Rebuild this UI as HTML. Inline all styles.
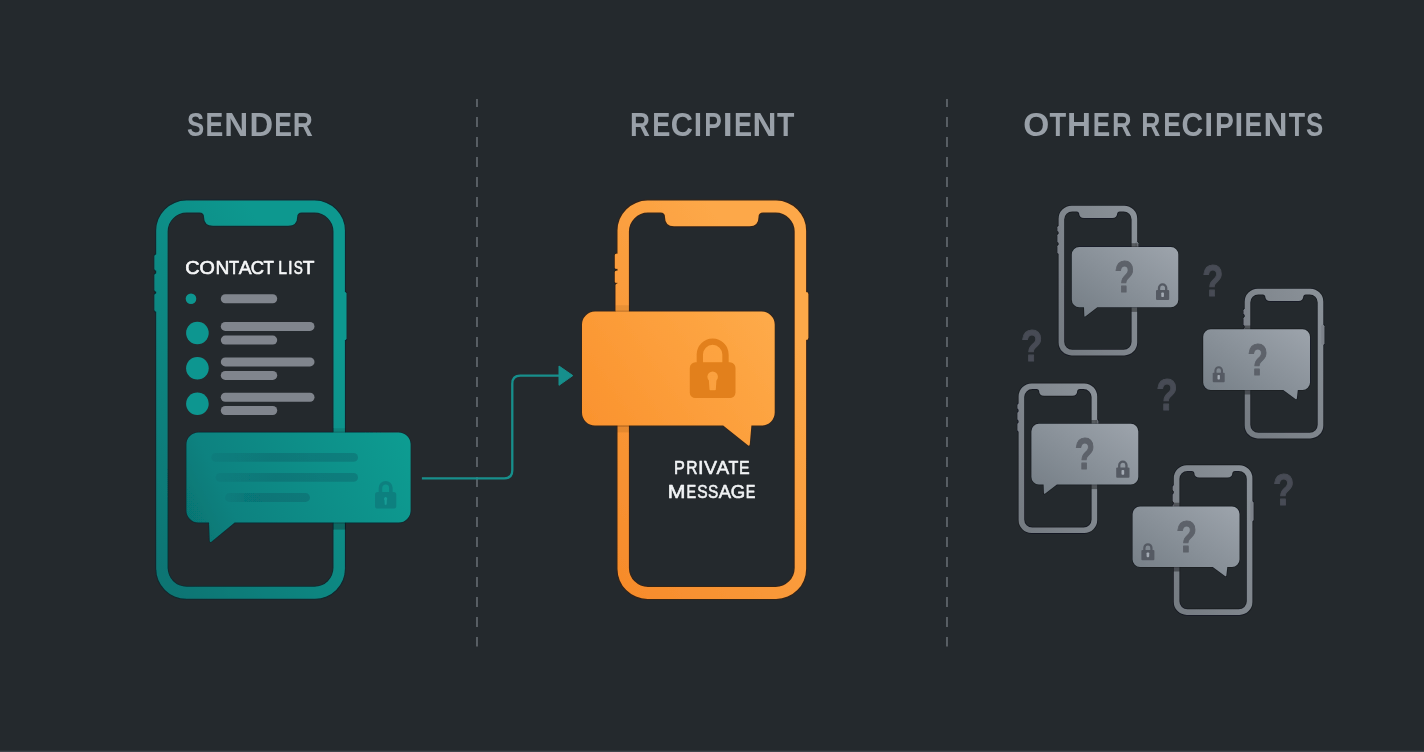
<!DOCTYPE html>
<html lang="en">
<head>
<meta charset="utf-8">
<title>Private message delivery: sender, recipient, other recipients</title>
<style>
  html, body { margin: 0; padding: 0; background: #24292d; }
  body { width: 1424px; height: 752px; overflow: hidden; }
  svg { display: block; }
  text { font-family: "Liberation Sans", sans-serif; }
</style>
</head>
<body>
<svg width="1424" height="752" viewBox="0 0 1424 752">
<defs>
  <linearGradient id="gTeal" gradientUnits="userSpaceOnUse" x1="156" y1="600" x2="472.5" y2="398.6">
    <stop offset="0" stop-color="#087271"/><stop offset="0.4" stop-color="#0e8681"/><stop offset="0.773" stop-color="#0e988f"/><stop offset="1" stop-color="#0e988f"/>
  </linearGradient>
  <linearGradient id="gTealB" gradientUnits="userSpaceOnUse" x1="186" y1="540" x2="411" y2="432">
    <stop offset="0" stop-color="#06726f"/><stop offset="0.22" stop-color="#088280"/><stop offset="1" stop-color="#0e9d92"/>
  </linearGradient>
  <linearGradient id="gTealLine" gradientUnits="objectBoundingBox" x1="0" y1="0" x2="1" y2="0">
    <stop offset="0" stop-color="#004655" stop-opacity="0.09"/><stop offset="0.42" stop-color="#004655" stop-opacity="0.27"/><stop offset="1" stop-color="#004655" stop-opacity="0.28"/>
  </linearGradient>
  <linearGradient id="gOr" gradientUnits="userSpaceOnUse" x1="617" y1="600" x2="933.5" y2="398.6">
    <stop offset="0" stop-color="#f68a2a"/><stop offset="0.773" stop-color="#fda848"/><stop offset="1" stop-color="#fda848"/>
  </linearGradient>
  <linearGradient id="gOrB" gradientUnits="userSpaceOnUse" x1="581" y1="446" x2="775" y2="311">
    <stop offset="0" stop-color="#fa912c"/><stop offset="1" stop-color="#feab4a"/>
  </linearGradient>
  <linearGradient id="gGrayB" gradientUnits="objectBoundingBox" x1="0" y1="1" x2="1" y2="0">
    <stop offset="0" stop-color="#747d85"/><stop offset="1" stop-color="#9da4ac"/>
  </linearGradient>
  <linearGradient id="gGrayP" gradientUnits="objectBoundingBox" x1="0" y1="1" x2="1" y2="0">
    <stop offset="0" stop-color="#747a81"/><stop offset="1" stop-color="#8b9299"/>
  </linearGradient>
  <filter id="soft" filterUnits="userSpaceOnUse" x="0" y="0" width="1424" height="752">
    <feGaussianBlur stdDeviation="0.45"/>
  </filter>
</defs>
<rect width="1424" height="752" fill="#24292d"/>
<rect x="0" y="750.7" width="1424" height="1.3" fill="#40454c"/>
<g filter="url(#soft)">

<line x1="477" y1="99" x2="477" y2="646.5" stroke="#757a82" stroke-width="1.3" stroke-dasharray="10 10" stroke-dashoffset="1.9"/>
<line x1="947" y1="99" x2="947" y2="646.5" stroke="#757a82" stroke-width="1.3" stroke-dasharray="10 10" stroke-dashoffset="1.9"/>
<text y="135.67" font-size="33.10" font-weight="bold" fill="#99a0a8"><tspan x="187.12" textLength="17.23" lengthAdjust="spacingAndGlyphs">S</tspan><tspan x="205.44" textLength="17.75" lengthAdjust="spacingAndGlyphs">E</tspan><tspan x="224.37" textLength="23.99" lengthAdjust="spacingAndGlyphs">N</tspan><tspan x="249.62" textLength="23.56" lengthAdjust="spacingAndGlyphs">D</tspan><tspan x="274.14" textLength="17.75" lengthAdjust="spacingAndGlyphs">E</tspan><tspan x="292.86" textLength="20.06" lengthAdjust="spacingAndGlyphs">R</tspan></text>
<text y="135.67" font-size="33.10" font-weight="bold" fill="#99a0a8"><tspan x="630.07" textLength="19.95" lengthAdjust="spacingAndGlyphs">R</tspan><tspan x="652.20" textLength="18.10" lengthAdjust="spacingAndGlyphs">E</tspan><tspan x="670.87" textLength="22.22" lengthAdjust="spacingAndGlyphs">C</tspan><tspan x="693.70" textLength="8.33" lengthAdjust="spacingAndGlyphs">I</tspan><tspan x="704.16" textLength="17.51" lengthAdjust="spacingAndGlyphs">P</tspan><tspan x="722.70" textLength="9.92" lengthAdjust="spacingAndGlyphs">I</tspan><tspan x="734.00" textLength="18.10" lengthAdjust="spacingAndGlyphs">E</tspan><tspan x="752.57" textLength="23.99" lengthAdjust="spacingAndGlyphs">N</tspan><tspan x="777.02" textLength="17.39" lengthAdjust="spacingAndGlyphs">T</tspan></text>
<text y="135.67" font-size="33.10" font-weight="bold" fill="#99a0a8"><tspan x="1023.36" textLength="26.00" lengthAdjust="spacingAndGlyphs">O</tspan><tspan x="1049.43" textLength="16.67" lengthAdjust="spacingAndGlyphs">T</tspan><tspan x="1066.97" textLength="23.99" lengthAdjust="spacingAndGlyphs">H</tspan><tspan x="1092.77" textLength="17.39" lengthAdjust="spacingAndGlyphs">E</tspan><tspan x="1112.00" textLength="19.60" lengthAdjust="spacingAndGlyphs">R</tspan> <tspan x="1141.14" textLength="19.14" lengthAdjust="spacingAndGlyphs">R</tspan><tspan x="1163.24" textLength="17.75" lengthAdjust="spacingAndGlyphs">E</tspan><tspan x="1181.40" textLength="21.67" lengthAdjust="spacingAndGlyphs">C</tspan><tspan x="1204.25" textLength="8.93" lengthAdjust="spacingAndGlyphs">I</tspan><tspan x="1215.03" textLength="18.82" lengthAdjust="spacingAndGlyphs">P</tspan><tspan x="1234.40" textLength="8.73" lengthAdjust="spacingAndGlyphs">I</tspan><tspan x="1244.55" textLength="17.63" lengthAdjust="spacingAndGlyphs">E</tspan><tspan x="1263.47" textLength="23.99" lengthAdjust="spacingAndGlyphs">N</tspan><tspan x="1288.63" textLength="16.36" lengthAdjust="spacingAndGlyphs">T</tspan><tspan x="1306.12" textLength="17.23" lengthAdjust="spacingAndGlyphs">S</tspan></text>
<g id="sender">
<rect x="154.60" y="254.50" width="5" height="16" rx="1.60" fill="url(#gTeal)" stroke="rgba(0,40,48,0.55)" stroke-width="2.0" paint-order="stroke"/>
<rect x="154.60" y="273.50" width="5" height="18" rx="1.60" fill="url(#gTeal)" stroke="rgba(0,40,48,0.55)" stroke-width="2.0" paint-order="stroke"/>
<rect x="154.60" y="293.50" width="5" height="18" rx="1.60" fill="url(#gTeal)" stroke="rgba(0,40,48,0.55)" stroke-width="2.0" paint-order="stroke"/>
<rect x="341.80" y="292.00" width="4.5" height="48" rx="1.60" fill="url(#gTeal)" stroke="rgba(0,40,48,0.55)" stroke-width="2.0" paint-order="stroke"/>
<path d="M186.20,200.60H314.90A30,30 0 0 1 344.90,230.60V568.80A30,30 0 0 1 314.90,598.80H186.20A30,30 0 0 1 156.20,568.80V230.60A30,30 0 0 1 186.20,200.60ZM186.60,212.60H199.50Q204.00,212.60 204.00,217.10V216.70Q204.00,225.70 213.00,225.70H288.20Q297.20,225.70 297.20,216.70V217.10Q297.20,212.60 301.70,212.60H314.50A19,19 0 0 1 333.50,231.60V567.80A19,19 0 0 1 314.50,586.80H186.60A19,19 0 0 1 167.60,567.80V231.60A19,19 0 0 1 186.60,212.60Z" fill="url(#gTeal)" fill-rule="evenodd" stroke="rgba(0,40,48,0.55)" stroke-width="2.0" paint-order="stroke"/>
<rect x="154.60" y="254.50" width="5" height="16" rx="1.60" fill="url(#gTeal)"/>
<rect x="154.60" y="273.50" width="5" height="18" rx="1.60" fill="url(#gTeal)"/>
<rect x="154.60" y="293.50" width="5" height="18" rx="1.60" fill="url(#gTeal)"/>
<rect x="341.80" y="292.00" width="4.5" height="48" rx="1.60" fill="url(#gTeal)"/>
<text y="274.34" font-size="18.67" font-weight="normal" fill="#f7f8f9" stroke="#f7f8f9" stroke-width="0.6" stroke-linejoin="round"><tspan x="185.30" textLength="14.34" lengthAdjust="spacingAndGlyphs">C</tspan><tspan x="199.61" textLength="15.34" lengthAdjust="spacingAndGlyphs">O</tspan><tspan x="215.56" textLength="13.83" lengthAdjust="spacingAndGlyphs">N</tspan><tspan x="229.03" textLength="10.15" lengthAdjust="spacingAndGlyphs">T</tspan><tspan x="238.69" textLength="12.86" lengthAdjust="spacingAndGlyphs">A</tspan><tspan x="250.75" textLength="13.26" lengthAdjust="spacingAndGlyphs">C</tspan><tspan x="263.43" textLength="10.15" lengthAdjust="spacingAndGlyphs">T</tspan> <tspan x="278.20" textLength="8.76" lengthAdjust="spacingAndGlyphs">L</tspan><tspan x="288.07" textLength="4.63" lengthAdjust="spacingAndGlyphs">I</tspan><tspan x="293.69" textLength="9.08" lengthAdjust="spacingAndGlyphs">S</tspan><tspan x="302.71" textLength="11.70" lengthAdjust="spacingAndGlyphs">T</tspan></text>
<circle cx="191" cy="298.7" r="5.3" fill="#0f9690"/>
<rect x="220.8" y="294.3" width="56.4" height="9" rx="4.5" fill="#80858d"/>
<circle cx="197.4" cy="333" r="11.3" fill="#0f9690"/>
<rect x="220.8" y="321.9" width="93.7" height="9" rx="4.5" fill="#80858d"/>
<rect x="220.8" y="335.6" width="56.4" height="9" rx="4.5" fill="#80858d"/>
<circle cx="197.4" cy="368.3" r="11.3" fill="#0f9690"/>
<rect x="220.8" y="357.4" width="93.7" height="9" rx="4.5" fill="#80858d"/>
<rect x="220.8" y="370.9" width="56.4" height="9" rx="4.5" fill="#80858d"/>
<circle cx="197.4" cy="403.8" r="11.3" fill="#0f9690"/>
<rect x="220.8" y="392.8" width="93.7" height="9" rx="4.5" fill="#80858d"/>
<rect x="220.8" y="406" width="56.4" height="9" rx="4.5" fill="#80858d"/>
<rect x="333.00" y="428.20" width="13.00" height="4.60" fill="#000" fill-opacity="0.1"/>
<rect x="333.00" y="522.00" width="13.00" height="7.60" fill="#000" fill-opacity="0.25"/>
<path d="M198.40,432.60H398.60A12,12 0 0 1 410.60,444.60V510.60A12,12 0 0 1 398.60,522.60H234.70L211.73,541.42Q209.80,543.00 209.70,540.50L209.00,522.60H198.40A12,12 0 0 1 186.40,510.60V444.60A12,12 0 0 1 198.40,432.60Z" fill="url(#gTealB)" stroke="rgba(0,40,48,0.45)" stroke-width="1.6" paint-order="stroke"/>
<rect x="211.3" y="453.00" width="146.70" height="8.8" rx="4.4" fill="url(#gTealLine)"/>
<rect x="215.5" y="473.00" width="142.50" height="8.8" rx="4.4" fill="url(#gTealLine)"/>
<rect x="225" y="493.10" width="85.00" height="8.8" rx="4.4" fill="url(#gTealLine)"/>
<g opacity="0.85">
<path d="M380.43,492.98V487.93A5.22,5.22 0 0 1 390.87,487.93V492.98" fill="none" stroke="#0a7d7d" stroke-width="3.62"/>
<rect x="375.00" y="491.98" width="21.30" height="16.62" rx="2.66" fill="#0a7d7d"/>
<circle cx="385.65" cy="498.63" r="1.60" fill="#1a9e97"/>
<path d="M384.66,498.63L384.93,504.61H386.37L386.64,498.63Z" fill="#1a9e97" stroke="#1a9e97" stroke-width="0.48" stroke-linejoin="round"/>
</g>
</g>
<path d="M421.9,478.3H504.3Q512.3,478.3 512.3,470.3V383.7Q512.3,375.7 520.3,375.7H560" fill="none" stroke="#178f8c" stroke-width="2.3"/>
<path d="M559,366L572.8,375.6L559,385.3Z" fill="#178f8c" stroke="#178f8c" stroke-width="1" stroke-linejoin="round"/>
<g id="recipient">
<rect x="614.90" y="253.80" width="5" height="15" rx="1.60" fill="url(#gOr)" stroke="rgba(70,30,0,0.5)" stroke-width="2.0" paint-order="stroke"/>
<rect x="614.90" y="270.80" width="5" height="12" rx="1.60" fill="url(#gOr)" stroke="rgba(70,30,0,0.5)" stroke-width="2.0" paint-order="stroke"/>
<rect x="615.70" y="283.50" width="5" height="29" rx="1.60" fill="url(#gOr)" stroke="rgba(70,30,0,0.5)" stroke-width="2.0" paint-order="stroke"/>
<rect x="804.00" y="292.30" width="4.2" height="47.4" rx="1.60" fill="url(#gOr)" stroke="rgba(70,30,0,0.5)" stroke-width="2.0" paint-order="stroke"/>
<path d="M647.50,200.60H776.10A30,30 0 0 1 806.10,230.60V568.90A30,30 0 0 1 776.10,598.90H647.50A30,30 0 0 1 617.50,568.90V230.60A30,30 0 0 1 647.50,200.60ZM647.90,212.60H660.50Q665.00,212.60 665.00,217.10V217.20Q665.00,226.20 674.00,226.20H749.50Q758.50,226.20 758.50,217.20V217.10Q758.50,212.60 763.00,212.60H775.70A19,19 0 0 1 794.70,231.60V567.90A19,19 0 0 1 775.70,586.90H647.90A19,19 0 0 1 628.90,567.90V231.60A19,19 0 0 1 647.90,212.60Z" fill="url(#gOr)" fill-rule="evenodd" stroke="rgba(70,30,0,0.5)" stroke-width="2.0" paint-order="stroke"/>
<rect x="614.90" y="253.80" width="5" height="15" rx="1.60" fill="url(#gOr)"/>
<rect x="614.90" y="270.80" width="5" height="12" rx="1.60" fill="url(#gOr)"/>
<rect x="615.70" y="283.50" width="5" height="29" rx="1.60" fill="url(#gOr)"/>
<rect x="804.00" y="292.30" width="4.2" height="47.4" rx="1.60" fill="url(#gOr)"/>
<text y="474.43" font-size="18.63" font-weight="normal" fill="#f1f3f5" stroke="#f1f3f5" stroke-width="0.6" stroke-linejoin="round"><tspan x="673.96" textLength="10.84" lengthAdjust="spacingAndGlyphs">P</tspan><tspan x="686.20" textLength="11.30" lengthAdjust="spacingAndGlyphs">R</tspan><tspan x="698.10" textLength="5.56" lengthAdjust="spacingAndGlyphs">I</tspan><tspan x="704.00" textLength="13.05" lengthAdjust="spacingAndGlyphs">V</tspan><tspan x="716.49" textLength="12.66" lengthAdjust="spacingAndGlyphs">A</tspan><tspan x="728.54" textLength="9.84" lengthAdjust="spacingAndGlyphs">T</tspan><tspan x="739.08" textLength="10.65" lengthAdjust="spacingAndGlyphs">E</tspan></text>
<text y="497.56" font-size="18.13" font-weight="normal" fill="#f1f3f5" stroke="#f1f3f5" stroke-width="0.6" stroke-linejoin="round"><tspan x="667.82" textLength="17.72" lengthAdjust="spacingAndGlyphs">M</tspan><tspan x="686.43" textLength="9.66" lengthAdjust="spacingAndGlyphs">E</tspan><tspan x="697.23" textLength="10.39" lengthAdjust="spacingAndGlyphs">S</tspan><tspan x="708.04" textLength="10.28" lengthAdjust="spacingAndGlyphs">S</tspan><tspan x="718.79" textLength="12.37" lengthAdjust="spacingAndGlyphs">A</tspan><tspan x="730.84" textLength="14.43" lengthAdjust="spacingAndGlyphs">G</tspan><tspan x="745.73" textLength="9.66" lengthAdjust="spacingAndGlyphs">E</tspan></text>
<rect x="615.50" y="305.20" width="14.50" height="6.60" fill="#000" fill-opacity="0.07"/>
<rect x="617.00" y="425.20" width="13.00" height="7.20" fill="#000" fill-opacity="0.08"/>
<path d="M595.00,311.60H761.70A13,13 0 0 1 774.70,324.60V412.60A13,13 0 0 1 761.70,425.60H751.40L749.81,444.11Q749.60,446.60 747.64,445.04L723.20,425.60H595.00A13,13 0 0 1 582.00,412.60V324.60A13,13 0 0 1 595.00,311.60Z" fill="url(#gOrB)" stroke="rgba(70,30,0,0.4)" stroke-width="1.6" paint-order="stroke"/>
<g opacity="1">
<path d="M699.81,363.34V354.50A12.84,12.84 0 0 1 725.49,354.50V363.34" fill="none" stroke="#e2801b" stroke-width="6.31"/>
<rect x="689.80" y="362.34" width="45.70" height="35.76" rx="5.71" fill="#e2801b"/>
<circle cx="712.65" cy="376.64" r="5.26" fill="#fba13f"/>
<path d="M709.39,376.64L710.29,389.52H715.01L715.91,376.64Z" fill="#fba13f" stroke="#fba13f" stroke-width="1.58" stroke-linejoin="round"/>
</g>
</g>
<g id="others">
<text transform="translate(1202.37,295.56) scale(0.7799,1)" font-size="44.17" font-weight="bold" letter-spacing="0.000" fill="#474b54" stroke="#474b54" stroke-width="1.1" stroke-linejoin="round">?</text>
<text transform="translate(1020.93,360.65) scale(0.7926,1)" font-size="44.86" font-weight="bold" letter-spacing="0.000" fill="#474b54" stroke="#474b54" stroke-width="1.1" stroke-linejoin="round">?</text>
<text transform="translate(1156.35,409.55) scale(0.7826,1)" font-size="44.72" font-weight="bold" letter-spacing="0.000" fill="#474b54" stroke="#474b54" stroke-width="1.1" stroke-linejoin="round">?</text>
<text transform="translate(1273.05,504.76) scale(0.7875,1)" font-size="44.44" font-weight="bold" letter-spacing="0.000" fill="#474b54" stroke="#474b54" stroke-width="1.1" stroke-linejoin="round">?</text>
<g>
<rect x="1057.60" y="225.80" width="3" height="6" rx="1.50" fill="#7d828a" stroke="rgba(10,14,22,0.45)" stroke-width="1.6" paint-order="stroke"/>
<rect x="1057.60" y="233.80" width="3" height="9" rx="1.50" fill="#7d828a" stroke="rgba(10,14,22,0.45)" stroke-width="1.6" paint-order="stroke"/>
<rect x="1057.60" y="244.80" width="3" height="9" rx="1.50" fill="#7d828a" stroke="rgba(10,14,22,0.45)" stroke-width="1.6" paint-order="stroke"/>
<rect x="1135.20" y="241.80" width="3" height="20" rx="1.50" fill="#7d828a" stroke="rgba(10,14,22,0.45)" stroke-width="1.6" paint-order="stroke"/>
<path d="M1071.60,205.80H1124.20A13,13 0 0 1 1137.20,218.80V342.40A13,13 0 0 1 1124.20,355.40H1071.60A13,13 0 0 1 1058.60,342.40V218.80A13,13 0 0 1 1071.60,205.80ZM1072.20,211.40H1076.60Q1079.10,211.40 1079.10,213.90V213.00Q1079.10,218.00 1084.10,218.00H1112.20Q1117.20,218.00 1117.20,213.00V213.90Q1117.20,211.40 1119.70,211.40H1123.60A8,8 0 0 1 1131.60,219.40V341.80A8,8 0 0 1 1123.60,349.80H1072.20A8,8 0 0 1 1064.20,341.80V219.40A8,8 0 0 1 1072.20,211.40Z" fill="url(#gGrayP)" fill-rule="evenodd" stroke="rgba(10,14,22,0.45)" stroke-width="1.6" paint-order="stroke"/>
<rect x="1057.60" y="225.80" width="3" height="6" rx="1.50" fill="#7d828a"/>
<rect x="1057.60" y="233.80" width="3" height="9" rx="1.50" fill="#7d828a"/>
<rect x="1057.60" y="244.80" width="3" height="9" rx="1.50" fill="#7d828a"/>
<rect x="1135.20" y="241.80" width="3" height="20" rx="1.50" fill="#7d828a"/>
<rect x="1131.30" y="243.20" width="6.20" height="4.00" fill="#000" fill-opacity="0.36"/>
<rect x="1131.30" y="307.10" width="6.20" height="4.80" fill="#000" fill-opacity="0.38"/>
<path d="M1079.30,247.00H1170.80A7.5,7.5 0 0 1 1178.30,254.50V299.80A7.5,7.5 0 0 1 1170.80,307.30H1097.30L1085.59,316.29Q1084.40,317.20 1084.34,315.70L1084.00,307.30H1079.30A7.5,7.5 0 0 1 1071.80,299.80V254.50A7.5,7.5 0 0 1 1079.30,247.00Z" fill="url(#gGrayB)" stroke="rgba(10,14,22,0.4)" stroke-width="1.4" paint-order="stroke"/>
<text transform="translate(1114.62,292.46) scale(0.7421,1)" font-size="44.17" font-weight="bold" letter-spacing="0.000" fill="#5d626a" stroke="#5d626a" stroke-width="1.1" stroke-linejoin="round">?</text>
<g opacity="1">
<path d="M1159.00,290.98V288.05A3.60,3.60 0 0 1 1166.20,288.05V290.98" fill="none" stroke="#555a63" stroke-width="2.31"/>
<rect x="1156.00" y="289.98" width="13.20" height="10.02" rx="1.06" fill="#555a63"/>
<rect x="1161.28" y="292.38" width="2.64" height="4.61" rx="0.79" fill="#a4abb4"/>
</g>
</g>
<g>
<rect x="1243.70" y="308.80" width="3" height="6" rx="1.50" fill="#7d828a" stroke="rgba(10,14,22,0.45)" stroke-width="1.6" paint-order="stroke"/>
<rect x="1243.70" y="316.80" width="3" height="9" rx="1.50" fill="#7d828a" stroke="rgba(10,14,22,0.45)" stroke-width="1.6" paint-order="stroke"/>
<rect x="1243.70" y="327.80" width="3" height="9" rx="1.50" fill="#7d828a" stroke="rgba(10,14,22,0.45)" stroke-width="1.6" paint-order="stroke"/>
<rect x="1321.30" y="324.80" width="3" height="20" rx="1.50" fill="#7d828a" stroke="rgba(10,14,22,0.45)" stroke-width="1.6" paint-order="stroke"/>
<path d="M1257.70,288.80H1310.30A13,13 0 0 1 1323.30,301.80V425.40A13,13 0 0 1 1310.30,438.40H1257.70A13,13 0 0 1 1244.70,425.40V301.80A13,13 0 0 1 1257.70,288.80ZM1258.30,294.40H1262.70Q1265.20,294.40 1265.20,296.90V296.00Q1265.20,301.00 1270.20,301.00H1298.30Q1303.30,301.00 1303.30,296.00V296.90Q1303.30,294.40 1305.80,294.40H1309.70A8,8 0 0 1 1317.70,302.40V424.80A8,8 0 0 1 1309.70,432.80H1258.30A8,8 0 0 1 1250.30,424.80V302.40A8,8 0 0 1 1258.30,294.40Z" fill="url(#gGrayP)" fill-rule="evenodd" stroke="rgba(10,14,22,0.45)" stroke-width="1.6" paint-order="stroke"/>
<rect x="1243.70" y="308.80" width="3" height="6" rx="1.50" fill="#7d828a"/>
<rect x="1243.70" y="316.80" width="3" height="9" rx="1.50" fill="#7d828a"/>
<rect x="1243.70" y="327.80" width="3" height="9" rx="1.50" fill="#7d828a"/>
<rect x="1321.30" y="324.80" width="3" height="20" rx="1.50" fill="#7d828a"/>
<rect x="1244.40" y="325.50" width="6.20" height="4.00" fill="#000" fill-opacity="0.36"/>
<rect x="1244.40" y="389.70" width="6.20" height="4.80" fill="#000" fill-opacity="0.38"/>
<path d="M1210.70,329.30H1302.50A7.5,7.5 0 0 1 1310.00,336.80V382.40A7.5,7.5 0 0 1 1302.50,389.90H1297.80L1296.87,398.31Q1296.70,399.80 1295.49,398.91L1283.30,389.90H1210.70A7.5,7.5 0 0 1 1203.20,382.40V336.80A7.5,7.5 0 0 1 1210.70,329.30Z" fill="url(#gGrayB)" stroke="rgba(10,14,22,0.4)" stroke-width="1.4" paint-order="stroke"/>
<text transform="translate(1247.39,374.96) scale(0.7637,1)" font-size="43.89" font-weight="bold" letter-spacing="0.000" fill="#5d626a" stroke="#5d626a" stroke-width="1.1" stroke-linejoin="round">?</text>
<g opacity="1">
<path d="M1215.43,373.64V370.52A3.27,3.27 0 0 1 1221.97,370.52V373.64" fill="none" stroke="#555a63" stroke-width="2.10"/>
<rect x="1212.70" y="372.64" width="12.00" height="9.66" rx="0.96" fill="#555a63"/>
<rect x="1217.50" y="374.96" width="2.40" height="4.44" rx="0.72" fill="#a4abb4"/>
</g>
</g>
<g>
<rect x="1017.60" y="403.50" width="3" height="6" rx="1.50" fill="#7d828a" stroke="rgba(10,14,22,0.45)" stroke-width="1.6" paint-order="stroke"/>
<rect x="1017.60" y="411.50" width="3" height="9" rx="1.50" fill="#7d828a" stroke="rgba(10,14,22,0.45)" stroke-width="1.6" paint-order="stroke"/>
<rect x="1017.60" y="422.50" width="3" height="9" rx="1.50" fill="#7d828a" stroke="rgba(10,14,22,0.45)" stroke-width="1.6" paint-order="stroke"/>
<rect x="1095.20" y="419.50" width="3" height="20" rx="1.50" fill="#7d828a" stroke="rgba(10,14,22,0.45)" stroke-width="1.6" paint-order="stroke"/>
<path d="M1031.60,383.50H1084.20A13,13 0 0 1 1097.20,396.50V520.10A13,13 0 0 1 1084.20,533.10H1031.60A13,13 0 0 1 1018.60,520.10V396.50A13,13 0 0 1 1031.60,383.50ZM1032.20,389.10H1036.60Q1039.10,389.10 1039.10,391.60V390.70Q1039.10,395.70 1044.10,395.70H1072.20Q1077.20,395.70 1077.20,390.70V391.60Q1077.20,389.10 1079.70,389.10H1083.60A8,8 0 0 1 1091.60,397.10V519.50A8,8 0 0 1 1083.60,527.50H1032.20A8,8 0 0 1 1024.20,519.50V397.10A8,8 0 0 1 1032.20,389.10Z" fill="url(#gGrayP)" fill-rule="evenodd" stroke="rgba(10,14,22,0.45)" stroke-width="1.6" paint-order="stroke"/>
<rect x="1017.60" y="403.50" width="3" height="6" rx="1.50" fill="#7d828a"/>
<rect x="1017.60" y="411.50" width="3" height="9" rx="1.50" fill="#7d828a"/>
<rect x="1017.60" y="422.50" width="3" height="9" rx="1.50" fill="#7d828a"/>
<rect x="1095.20" y="419.50" width="3" height="20" rx="1.50" fill="#7d828a"/>
<rect x="1091.30" y="420.00" width="6.20" height="4.00" fill="#000" fill-opacity="0.36"/>
<rect x="1091.30" y="484.30" width="6.20" height="4.80" fill="#000" fill-opacity="0.38"/>
<path d="M1038.90,423.80H1130.80A7.5,7.5 0 0 1 1138.30,431.30V477.00A7.5,7.5 0 0 1 1130.80,484.50H1056.90L1045.19,493.49Q1044.00,494.40 1043.94,492.90L1043.60,484.50H1038.90A7.5,7.5 0 0 1 1031.40,477.00V431.30A7.5,7.5 0 0 1 1038.90,423.80Z" fill="url(#gGrayB)" stroke="rgba(10,14,22,0.4)" stroke-width="1.4" paint-order="stroke"/>
<text transform="translate(1074.81,469.37) scale(0.7583,1)" font-size="43.47" font-weight="bold" letter-spacing="0.000" fill="#5d626a" stroke="#5d626a" stroke-width="1.1" stroke-linejoin="round">?</text>
<g opacity="1">
<path d="M1119.23,468.42V465.29A3.62,3.62 0 0 1 1126.47,465.29V468.42" fill="none" stroke="#555a63" stroke-width="2.33"/>
<rect x="1116.20" y="467.42" width="13.30" height="10.38" rx="1.06" fill="#555a63"/>
<rect x="1121.52" y="469.91" width="2.66" height="4.77" rx="0.80" fill="#a4abb4"/>
</g>
</g>
<g>
<rect x="1172.80" y="485.30" width="3" height="6" rx="1.50" fill="#7d828a" stroke="rgba(10,14,22,0.45)" stroke-width="1.6" paint-order="stroke"/>
<rect x="1172.80" y="493.30" width="3" height="9" rx="1.50" fill="#7d828a" stroke="rgba(10,14,22,0.45)" stroke-width="1.6" paint-order="stroke"/>
<rect x="1172.80" y="504.30" width="3" height="9" rx="1.50" fill="#7d828a" stroke="rgba(10,14,22,0.45)" stroke-width="1.6" paint-order="stroke"/>
<rect x="1250.40" y="501.30" width="3" height="20" rx="1.50" fill="#7d828a" stroke="rgba(10,14,22,0.45)" stroke-width="1.6" paint-order="stroke"/>
<path d="M1186.80,465.30H1239.40A13,13 0 0 1 1252.40,478.30V601.90A13,13 0 0 1 1239.40,614.90H1186.80A13,13 0 0 1 1173.80,601.90V478.30A13,13 0 0 1 1186.80,465.30ZM1187.40,470.90H1191.80Q1194.30,470.90 1194.30,473.40V472.50Q1194.30,477.50 1199.30,477.50H1227.40Q1232.40,477.50 1232.40,472.50V473.40Q1232.40,470.90 1234.90,470.90H1238.80A8,8 0 0 1 1246.80,478.90V601.30A8,8 0 0 1 1238.80,609.30H1187.40A8,8 0 0 1 1179.40,601.30V478.90A8,8 0 0 1 1187.40,470.90Z" fill="url(#gGrayP)" fill-rule="evenodd" stroke="rgba(10,14,22,0.45)" stroke-width="1.6" paint-order="stroke"/>
<rect x="1172.80" y="485.30" width="3" height="6" rx="1.50" fill="#7d828a"/>
<rect x="1172.80" y="493.30" width="3" height="9" rx="1.50" fill="#7d828a"/>
<rect x="1172.80" y="504.30" width="3" height="9" rx="1.50" fill="#7d828a"/>
<rect x="1250.40" y="501.30" width="3" height="20" rx="1.50" fill="#7d828a"/>
<rect x="1173.50" y="502.70" width="6.20" height="4.00" fill="#000" fill-opacity="0.36"/>
<rect x="1173.50" y="566.70" width="6.20" height="4.80" fill="#000" fill-opacity="0.38"/>
<path d="M1140.10,506.50H1232.00A7.5,7.5 0 0 1 1239.50,514.00V559.40A7.5,7.5 0 0 1 1232.00,566.90H1227.30L1226.37,575.31Q1226.20,576.80 1224.99,575.91L1212.80,566.90H1140.10A7.5,7.5 0 0 1 1132.60,559.40V514.00A7.5,7.5 0 0 1 1140.10,506.50Z" fill="url(#gGrayB)" stroke="rgba(10,14,22,0.4)" stroke-width="1.4" paint-order="stroke"/>
<text transform="translate(1176.28,551.76) scale(0.7722,1)" font-size="43.89" font-weight="bold" letter-spacing="0.000" fill="#5d626a" stroke="#5d626a" stroke-width="1.1" stroke-linejoin="round">?</text>
<g opacity="1">
<path d="M1144.36,551.00V547.88A3.54,3.54 0 0 1 1151.44,547.88V551.00" fill="none" stroke="#555a63" stroke-width="2.27"/>
<rect x="1141.40" y="550.00" width="13.00" height="10.20" rx="1.04" fill="#555a63"/>
<rect x="1146.60" y="552.45" width="2.60" height="4.69" rx="0.78" fill="#a4abb4"/>
</g>
</g>
</g>
</g>
</svg>
</body>
</html>
